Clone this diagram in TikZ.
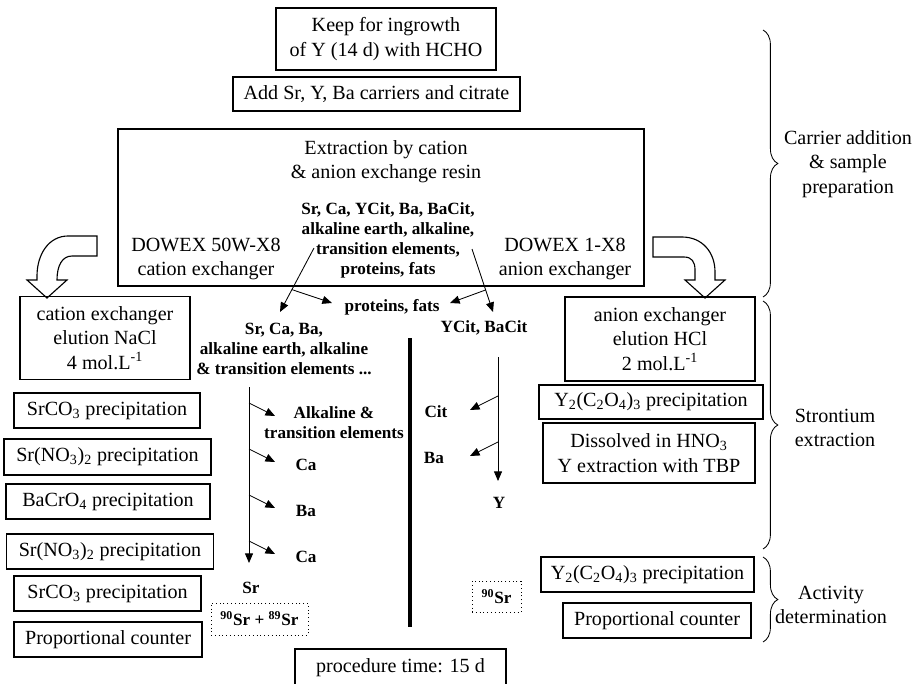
\documentclass[tikz,border=0pt]{standalone}
\usepackage{fontspec}
\setmainfont{Liberation Serif}
\usetikzlibrary{arrows.meta, calc, decorations.pathreplacing}

\newcommand{\rmsize}{\fontsize{14.3}{17.4}\selectfont}
\newcommand{\bfsize}{\fontsize{12.2}{14.2}\selectfont\bfseries}

\tikzset{
	box/.style={draw, line width=0.8pt, inner sep=0pt, align=center, font=\rmsize},
	dotbox/.style={draw, dotted, line width=0.7pt, inner sep=0pt, align=center, font=\bfsize},
	wh/.style 2 args={minimum width=#1*0.025cm, minimum height=#2*0.025cm},
	lbl/.style={inner sep=0pt, align=center, font=\rmsize},
	blbl/.style={inner sep=0pt, align=center, font=\bfsize},
	arr/.style={-{Triangle[length=0.24cm, width=0.2cm]}, line width=0.6pt},
	sep/.style={line width=3.5pt},
	hollow/.style={draw, fill=white, line width=0.8pt, line join=miter},
	grp/.style={decorate, decoration={brace, amplitude=0.37cm}, line width=0.6pt}
}

\begin{document}
\begin{tikzpicture}[x=0.025cm, y=-0.025cm]
		\useasboundingbox (0,0) rectangle (918,683);

\coordinate (rl0) at (314,248);
\coordinate (rl1) at (280,312);
\coordinate (rl2) at ($(rl0)!0.65!(rl1)$);
\coordinate (rl3) at (332,303);
\coordinate (rr0) at (472,249);
\coordinate (rr1) at (493,312);
\coordinate (rr2) at ($(rr0)!0.65!(rr1)$);
\coordinate (rr3) at (450,303);

\coordinate (lt) at (249,387);
\coordinate (lb) at (249,563);
\coordinate (rt) at (498,357);
\coordinate (rb) at (498,481);
\coordinate (sept) at (410,338);
\coordinate (sepb) at (410,627);

\coordinate (b1t) at (763,30);
\coordinate (b1b) at (763,297);
\coordinate (b2t) at (763,301);
\coordinate (b2b) at (763,549);
\coordinate (b3t) at (763,557);
\coordinate (b3b) at (763,642);

\draw[hollow] (97,236) -- (68,236) .. controls (49,236) and (37,254) .. (37,276) -- (37,280) -- (27,280) -- (47,298) -- (67,280) -- (57,280) .. controls (57,266) and (62,256) .. (72,256) -- (97,256) -- cycle;
\draw[hollow] (653,237) -- (682,237) .. controls (702,237) and (715,252) .. (715,272) -- (715,280) -- (725,280) -- (705,298) -- (685,280) -- (695,280) -- (695,270) .. controls (695,262) and (692,257) .. (684,257) -- (653,257) -- cycle;

\node[box, wh={220}{62}] (keep) at (386,39) {Keep for ingrowth\\of Y (14 d) with HCHO};
\node[box, wh={287}{34}] (add) at (376.5,94) {Add Sr, Y, Ba carriers and citrate};
\node[box, wh={526}{157}] (resin) at (381,207.5) {};
\node[lbl] (extr) at (386,161.5) {Extraction by cation\\\& anion exchange resin};
\node[blbl] (mix) at (388,240) {Sr, Ca, YCit, Ba, BaCit,\\alkaline earth, alkaline,\\transition elements,\\proteins, fats};
\node[lbl] (dowc) at (206,259) {DOWEX 50W-X8\\cation exchanger};
\node[lbl] (dowa) at (565,259) {DOWEX 1-X8\\anion exchanger};

\node[box, wh={170}{83}] (celu) at (105,338) {cation exchanger\\elution NaCl\\4 mol.L\textsuperscript{-1}};
\node[box, wh={186}{35}] (l1) at (107,410.5) {SrCO\textsubscript{3} precipitation};
\node[box, wh={207}{36}] (l2) at (107.5,457) {Sr(NO\textsubscript{3})\textsubscript{2} precipitation};
\node[box, wh={204}{35}] (l3) at (108,501.5) {BaCrO\textsubscript{4} precipitation};
\node[box, wh={207}{35}] (l4) at (110,551.5) {Sr(NO\textsubscript{3})\textsubscript{2} precipitation};
\node[box, wh={187}{35}] (l5) at (107.5,593.5) {SrCO\textsubscript{3} precipitation};
\node[box, wh={188}{35}] (l6) at (108,639.5) {Proportional counter};

\node[box, wh={190}{84}] (aelu) at (660,339) {anion exchanger\\elution HCl\\2 mol.L\textsuperscript{-1}};
\node[box, wh={224}{34}] (r1) at (651,402) {Y\textsubscript{2}(C\textsubscript{2}O\textsubscript{4})\textsubscript{3} precipitation};
\node[box, wh={212}{60}] (r2) at (649,453) {Dissolved in HNO\textsubscript{3}\\Y extraction with TBP};
\node[box, wh={213}{35}] (r3) at (647.5,574.5) {Y\textsubscript{2}(C\textsubscript{2}O\textsubscript{4})\textsubscript{3} precipitation};
\node[box, wh={188}{35}] (r4) at (657,620.5) {Proportional counter};

\node[box, wh={211}{38}] (ptime) at (400.5,668) {procedure time: 15 d};

\node[blbl] (prot) at (392,307) {proteins, fats};
\node[blbl] (srcaba) at (284,349) {Sr, Ca, Ba,\\alkaline earth, alkaline\\\& transition elements ...};
\node[blbl] (ycit) at (484,328) {YCit, BaCit};
\node[blbl] (alk) at (334,423) {Alkaline \&\\transition elements};
\node[blbl] (ca1) at (306,465) {Ca};
\node[blbl] (ba1) at (306,511) {Ba};
\node[blbl] (ca2) at (306,557) {Ca};
\node[blbl] (sr) at (251,588) {Sr};
\node[blbl] (cit) at (436,412) {Cit};
\node[blbl] (ba2) at (434,458) {Ba};
\node[blbl] (yy) at (499,503) {Y};
\node[dotbox, wh={97}{32}] (sr2) at (259.5,619) {\textsuperscript{90}Sr + \textsuperscript{89}Sr};
\node[dotbox, wh={49}{31}] (sr1) at (496.5,596.5) {\textsuperscript{90}Sr};

\draw[arr] (rl0) -- (rl1);
\draw[arr] (rl2) -- (rl3);
\draw[arr] (rr0) -- (rr1);
\draw[arr] (rr2) -- (rr3);

\draw[arr] (lt) -- (lb);
\foreach \n/\y in {1/403, 2/449, 3/495, 4/541} {
	\coordinate (lb\n) at (249,\y);
	\coordinate (lt\n) at (275,\y+13);
	\draw[arr] (lb\n) -- (lt\n);
}
\draw[arr] (rt) -- (rb);
\foreach \n/\y in {1/396, 2/442} {
	\coordinate (rb\n) at (498,\y);
	\coordinate (rt\n) at (470,\y+14);
	\draw[arr] (rb\n) -- (rt\n);
}
\draw[sep] (sept) -- (sepb);

\draw[grp] (b1t) -- (b1b);
\draw[grp] (b2t) -- (b2b);
\draw[grp] (b3t) -- (b3b);
\node[lbl] (carr) at (848,164) {Carrier addition\\\& sample\\preparation};
\node[lbl] (stro) at (835,428) {Strontium\\extraction};
\node[lbl] (acti) at (831,605) {Activity\\determination};
	\end{tikzpicture}
\end{document}
